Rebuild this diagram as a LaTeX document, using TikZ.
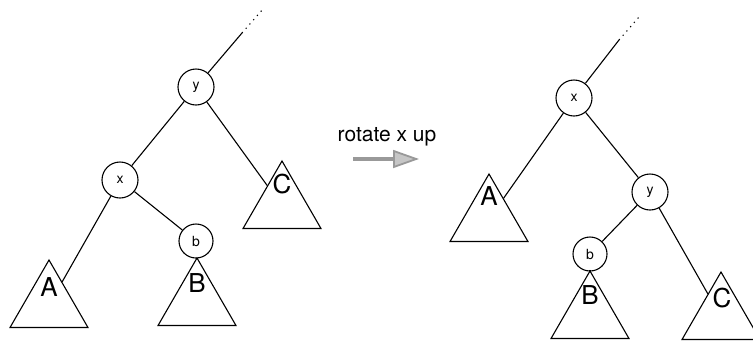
\documentclass[tikz,border=0pt]{standalone}
\usepackage{fontspec}
\setmainfont{TeX Gyre Heros}
\usetikzlibrary{arrows.meta,shapes.geometric}
\tikzset{vertex/.style={draw,circle,inner sep=0pt,minimum size=36pt,font=\fontsize{14}{14}\selectfont},
  subtree/.style={draw,regular polygon,regular polygon sides=3,inner sep=0pt,minimum size=90pt},
  treename/.style={inner sep=0pt,font=\fontsize{26}{26}\selectfont},
  dots/.style={dash pattern=on 1.2pt off 4.5pt}}
\begin{document}
\begin{tikzpicture}[x=1pt,y=-1pt,line width=1.1pt]
\useasboundingbox (0,0) rectangle (753,341);
\node[vertex] (y) at (196,87) {y}; \node[vertex] (x) at (120,180) {x}; \node[vertex,minimum size=34pt] (b) at (196,241) {b};
\node[subtree] (tA) at (49,305) {}; \node[subtree] (tB) at (197,303) {}; \node[subtree] (tC) at (282,206) {};
\node[treename] (A) at (49,287) {A}; \node[treename] (B) at (197,283) {B}; \node[treename] (C) at (282,184) {C};
\coordinate (ytop) at (242,33); \coordinate (yend) at (263,9);
\draw (y) -- (ytop); \draw[dots] (ytop) -- (yend);
\draw (y) -- (x); \draw (y) -- (tC); \draw (x) -- (tA); \draw (x) -- (b); \draw (b) -- (tB);
\node (rot) at (387,137) {\fontsize{21}{21}\selectfont rotate x up};
\coordinate (arrS) at (353,159); \coordinate (arrE) at (419,159);
\draw[line width=3.5pt, gray!80, -{Triangle[length=26pt,width=18pt,line width=1.8pt,fill=gray!45]}] (arrS) -- (arrE);
\node[vertex] (x2) at (574,98) {x}; \node[vertex] (y2) at (650,192) {y}; \node[vertex,minimum size=34pt] (b2) at (590,254) {b};
\node[subtree] (tA2) at (489,219) {}; \node[subtree] (tB2) at (590,316) {}; \node[subtree] (tC2) at (721,317) {};
\node[treename] (A2) at (489,196) {A}; \node[treename] (B2) at (590,295) {B}; \node[treename] (C2) at (722,298) {C};
\coordinate (xtop) at (619,40); \coordinate (xend) at (639,17);
\draw (x2) -- (xtop); \draw[dots] (xtop) -- (xend);
\draw (x2) -- (tA2); \draw (x2) -- (y2); \draw (y2) -- (b2); \draw (y2) -- (tC2); \draw (b2) -- (tB2);
\end{tikzpicture}
\end{document}
